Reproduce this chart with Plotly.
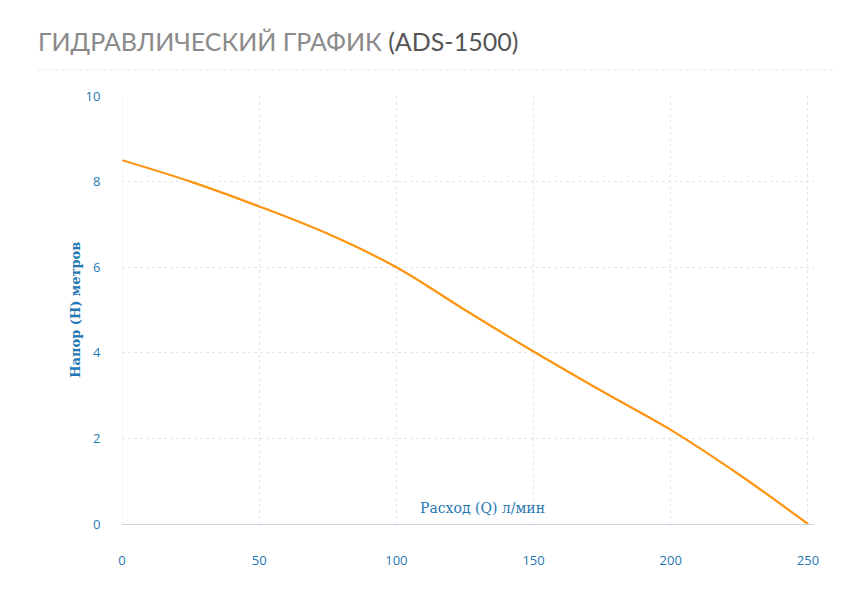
import plotly.graph_objects as go

flow = [0, 25, 50, 75, 100, 125, 150, 175, 200, 225, 250]
head = [8.5, 8.0, 7.42, 6.78, 6.0, 5.0, 4.03, 3.1, 2.2, 1.15, 0.0]
x_ticks = [0, 50, 100, 150, 200, 250]
y_ticks = [0, 2, 4, 6, 8, 10]

blue = "#1f78b4"
fig = go.Figure(go.Scatter(x=flow, y=head, mode="lines",
                           line=dict(color="#ff9410", width=2.2, shape="spline"),
                           hoverinfo="skip"))
fig.update_layout(
    width=842, height=593, plot_bgcolor="white", paper_bgcolor="white",
    margin=dict(l=114, r=36, t=88, b=77, autoexpand=False), showlegend=False,
    font=dict(family="Open Sans", color=blue, size=13),
    xaxis=dict(range=[0, 252.2], tickvals=x_ticks, showgrid=True, gridcolor="#e3e6ea",
               griddash="dot", zeroline=False, showline=True, linecolor="#c9d3e3",
               ticks="outside", ticklen=24, tickcolor="rgba(0,0,0,0)",
               tickfont=dict(color=blue, size=13), automargin=False),
    yaxis=dict(range=[0, 10], tickvals=y_ticks, showgrid=True, gridcolor="#e3e6ea",
               griddash="dot", zeroline=False, showline=False,
               ticks="outside", ticklen=18, tickcolor="rgba(0,0,0,0)",
               tickfont=dict(color=blue, size=13), automargin=False),
    shapes=[
        dict(type="line", xref="paper", yref="paper", x0=-0.122, x1=1.03, y0=1.061, y1=1.061,
             line=dict(color="#e3e6ea", width=1, dash="dot")),
        dict(type="line", xref="x", yref="paper", x0=0, x1=0, y0=0, y1=1,
             line=dict(color="#eef1f4", width=1)),
    ],
    annotations=[
        dict(text="<span style='color:#8a8a8a'>ГИДРАВЛИЧЕСКИЙ ГРАФИК</span> <span style='color:#555'>(ADS-1500)</span>",
             xref="paper", yref="paper", x=-0.124, y=1.128, xanchor="left", yanchor="middle",
             showarrow=False, font=dict(family="Lato", size=25)),
        dict(text="Расход (Q) л/мин", xref="x", yref="y", x=131.5, y=0.38,
             showarrow=False, font=dict(family="DejaVu Serif", size=14, color=blue)),
        dict(text="<b>Напор (H) метров</b>", xref="paper", yref="paper", x=-0.082, y=0.5,
             textangle=-90, showarrow=False, font=dict(family="DejaVu Serif", size=13, color=blue)),
    ],
)
fig.write_html("out.html")
